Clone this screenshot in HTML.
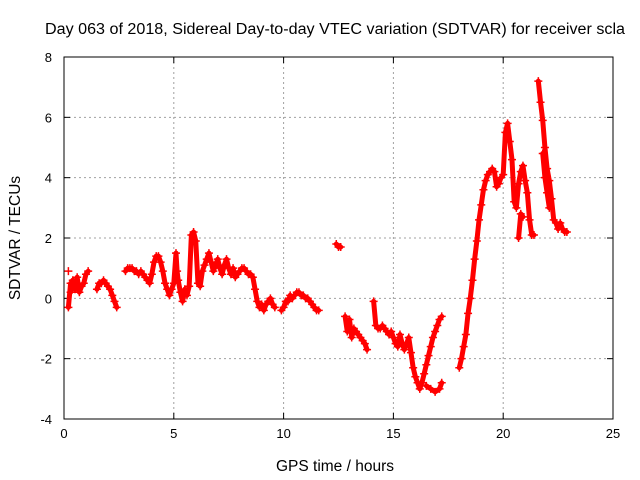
<!DOCTYPE html>
<html><head><meta charset="utf-8"><style>
body{margin:0;background:#fff;}
svg{display:block;font-family:"Liberation Sans",sans-serif;}
</style></head><body>
<svg id="chart" width="640" height="480">
<text x="335" y="34" font-size="15.5" text-anchor="middle" textLength="580" lengthAdjust="spacingAndGlyphs">Day 063 of 2018, Sidereal Day-to-day VTEC variation (SDTVAR) for receiver scla</text>
<text x="335" y="471" font-size="15.5" text-anchor="middle">GPS time / hours</text>
<text x="20" y="238" font-size="15.5" text-anchor="middle" transform="rotate(-90 20 238)">SDTVAR / TECUs</text>
<g id="grid"></g>
<g id="axes"></g>
<g id="marks"></g>
</svg>
<script>
const xTicks=[0,5,10,15,20,25];
const yTicks=[-4,-2,0,2,4,6,8];
const times=[0.2,0.2,0.3,0.3,0.4,0.5,0.6,0.7,0.8,0.9,1.0,1.1,
1.5,1.6,1.7,1.8,1.9,2.0,2.1,2.2,2.3,2.4,
2.8,2.9,3.0,3.1,3.2,3.3,3.4,3.5,3.6,3.7,3.8,3.9,4.0,4.1,4.2,4.3,4.4,4.5,4.6,4.7,4.8,4.9,5.0,5.1,5.15,5.2,5.3,5.4,5.5,5.6,5.7,5.8,5.9,6.0,6.1,6.2,6.3,6.4,6.5,6.6,6.7,6.8,6.9,7.0,7.1,7.2,7.3,7.4,7.5,7.6,7.7,7.8,7.9,8.0,8.1,8.2,8.3,8.4,8.5,8.6,8.7,8.8,8.9,9.0,9.1,9.2,9.3,9.4,9.5,9.6,
9.9,10.0,10.1,10.2,10.3,10.4,10.5,10.6,10.7,10.8,10.9,11.0,11.1,11.2,11.3,11.4,11.5,11.6,
12.4,12.5,12.6,
12.8,12.9,13.0,13.1,13.2,13.3,13.4,13.5,13.6,13.7,13.8,
14.1,14.2,14.3,14.4,14.5,14.6,14.7,14.8,14.9,15.0,15.1,15.2,15.3,15.4,15.5,15.6,15.7,15.8,15.9,16.0,16.1,16.2,16.3,16.4,16.5,16.6,16.7,16.8,16.9,17.0,17.1,17.2,
16.5,16.7,16.9,17.1,17.2,
18.0,18.1,18.2,18.3,18.4,18.5,18.6,18.7,18.8,18.9,19.0,19.1,19.2,19.3,19.4,19.5,19.6,19.7,19.8,19.9,20.0,20.1,20.2,20.3,20.4,20.5,20.6,20.7,20.8,20.9,21.0,21.1,21.2,21.3,21.4,
20.7,20.8,20.9,
21.6,21.7,21.8,21.9,22.0,22.1,22.2,22.3,22.4,22.5,22.6,22.7,22.8,22.9,21.8,21.9,22.0,22.1];
const values=[0.9,-0.3,0.5,0.2,0.6,0.3,0.7,0.2,0.4,0.5,0.8,0.9,
0.3,0.5,0.5,0.6,0.5,0.4,0.3,0.1,-0.1,-0.3,
0.9,1.0,1.0,1.0,0.9,0.9,0.8,0.9,0.8,0.7,0.6,0.5,0.8,1.2,1.4,1.4,1.2,0.9,0.5,0.3,0.1,0.3,0.5,1.5,0.9,0.6,0.2,-0.1,0.3,0.1,0.4,2.1,2.2,1.9,0.5,0.4,0.9,1.1,1.3,1.5,1.2,0.9,1.1,1.3,1.0,0.8,1.1,1.3,1.0,0.8,1.0,0.7,0.8,0.9,1.0,1.0,0.9,0.8,0.8,0.7,0.3,-0.1,-0.3,-0.2,-0.4,-0.2,-0.1,0.0,-0.2,-0.3,
-0.4,-0.3,-0.1,-0.1,0.1,0.0,0.1,0.2,0.2,0.1,0.1,0.0,0.0,-0.1,-0.2,-0.3,-0.4,-0.4,
1.8,1.7,1.7,
-0.6,-1.1,-0.7,-1.3,-1.0,-1.1,-1.2,-1.3,-1.4,-1.5,-1.7,
-0.1,-0.9,-1.0,-1.0,-0.9,-1.0,-1.1,-1.2,-1.1,-1.3,-1.5,-1.6,-1.2,-1.5,-1.7,-1.5,-1.3,-1.8,-2.3,-2.6,-2.8,-3.0,-2.8,-2.5,-2.2,-1.9,-1.6,-1.3,-1.1,-0.9,-0.7,-0.6,
-2.9,-3.0,-3.1,-3.0,-2.8,
-2.3,-2.0,-1.6,-1.2,-0.5,0.0,0.6,1.3,1.9,2.6,3.1,3.6,3.9,4.1,4.2,4.3,4.2,3.7,3.8,4.0,4.1,5.5,5.8,5.2,4.6,3.2,3.0,3.8,4.2,4.4,3.9,3.5,2.6,2.1,2.1,
2.0,2.8,2.7,
7.2,6.5,5.9,5.0,4.3,3.9,3.3,2.6,2.5,2.3,2.5,2.3,2.2,2.2,4.8,4.0,3.5,3.0];
const X0=64,X1=613,Y0=419,Y1=57,NS="http://www.w3.org/2000/svg";
function xs(v){return X0+(v-0)/25*(X1-X0);}
function ys(v){return Y0-(v+4)/12*(Y0-Y1);}
function mk(t,a,p){const e=document.createElementNS(NS,t);for(const k in a)e.setAttribute(k,a[k]);p.appendChild(e);return e;}
const grid=document.getElementById('grid'),axes=document.getElementById('axes'),marks=document.getElementById('marks');
xTicks.forEach(t=>{const x=xs(t);
if(t>0&&t<25){const l=mk('line',{x1:x,x2:x,y1:Y0,y2:Y1,stroke:'#a0a0a0','stroke-dasharray':'2,3'},grid);

}
mk('line',{x1:x,x2:x,y1:Y0,y2:Y0-6,stroke:'#000'},axes);
mk('line',{x1:x,x2:x,y1:Y1,y2:Y1+6,stroke:'#000'},axes);
const tx=mk('text',{x:x,y:Y0+19,'font-size':13,'text-anchor':'middle'},axes);tx.textContent=t;

});
yTicks.forEach(t=>{const y=ys(t);
if(t>-4&&t<8){const l=mk('line',{x1:X0,x2:X1,y1:y,y2:y,stroke:'#a0a0a0','stroke-dasharray':'2,3'},grid);

}
mk('line',{x1:X0,x2:X0+6,y1:y,y2:y,stroke:'#000'},axes);
mk('line',{x1:X1,x2:X1-6,y1:y,y2:y,stroke:'#000'},axes);
const tx=mk('text',{x:X0-12,y:y+5,'font-size':13,'text-anchor':'end'},axes);tx.textContent=t;

});
mk('rect',{x:X0,y:Y1,width:X1-X0,height:Y0-Y1,fill:'none',stroke:'#000'},axes);
let band='';
times.forEach((t,i)=>{const x=xs(t),y=ys(values[i]);
const cont=i>0&&t>times[i-1]&&t-times[i-1]<0.22&&Math.abs(values[i]-values[i-1])<2;
band+=(cont?'L':'M')+x+','+y;});
const b=mk('path',{d:band,stroke:'#f00','stroke-width':5,fill:'none','stroke-linejoin':'round','stroke-linecap':'round'},marks);


let d='';
times.forEach((t,i)=>{const x=xs(t),y=ys(values[i]);d+=`M${x-4},${y}h8M${x},${y-4}v8`;});
const p=mk('path',{d:d,stroke:'#f00','stroke-width':1.5,fill:'none'},marks);


</script>
</body></html>
